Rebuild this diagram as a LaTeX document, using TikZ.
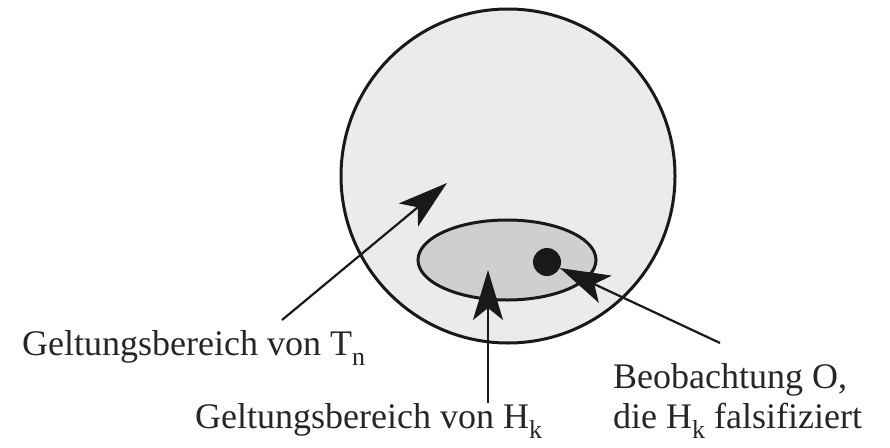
\documentclass[tikz,border=0pt]{standalone}
\usepackage{fontspec}
\setmainfont{Liberation Serif}
\usetikzlibrary{arrows.meta,shapes.geometric}
\newcommand{\lowidx}[1]{\raisebox{-0.28em}{\fontsize{26pt}{26pt}\selectfont #1}}
\tikzset{
  lbl/.style={anchor=base west, inner sep=0pt, font=\fontsize{36pt}{40pt}\selectfont, text=black!85},
  arr/.style={line width=2.2pt, draw=black!90, -{Stealth[length=50pt,width=30pt,inset=12pt]}},
}
\begin{document}
\begin{tikzpicture}[x=1pt,y=-1pt]
\useasboundingbox (0,0) rectangle (890,447);
% outer region T_n
\node[circle, draw=black!90, line width=3pt, fill=gray!16, minimum size=334pt, inner sep=0pt] (tn) at (508,176) {};
% inner region H_k
\node[ellipse, draw=black!90, line width=3pt, fill=gray!38, minimum width=178pt, minimum height=80pt, inner sep=0pt] (hk) at (507,260) {};
% observation
\node[circle, fill=black!90, minimum size=28pt, inner sep=0pt] (obs) at (547,262) {};
% labels
\node[lbl] (ltn) at (22,355) {Geltungsbereich von T\lowidx{n}};
\node[lbl] (lhk) at (195,428) {Geltungsbereich von H\lowidx{k}};
\node[lbl] (lo1) at (613,388) {Beobachtung O,};
\node[lbl] (lo2) at (613,428) {die H\lowidx{k} falsifiziert};
% arrows
\coordinate (ttail) at (282,320);
\coordinate (ttip) at (447,183);
\coordinate (htail) at (488,403);
\coordinate (htip) at (488,270);
\coordinate (otail) at (720,343);
\draw[arr] (ttail) -- (ttip);
\draw[arr] (htail) -- (htip);
\draw[arr] (otail) -- (obs);
\end{tikzpicture}
\end{document}
